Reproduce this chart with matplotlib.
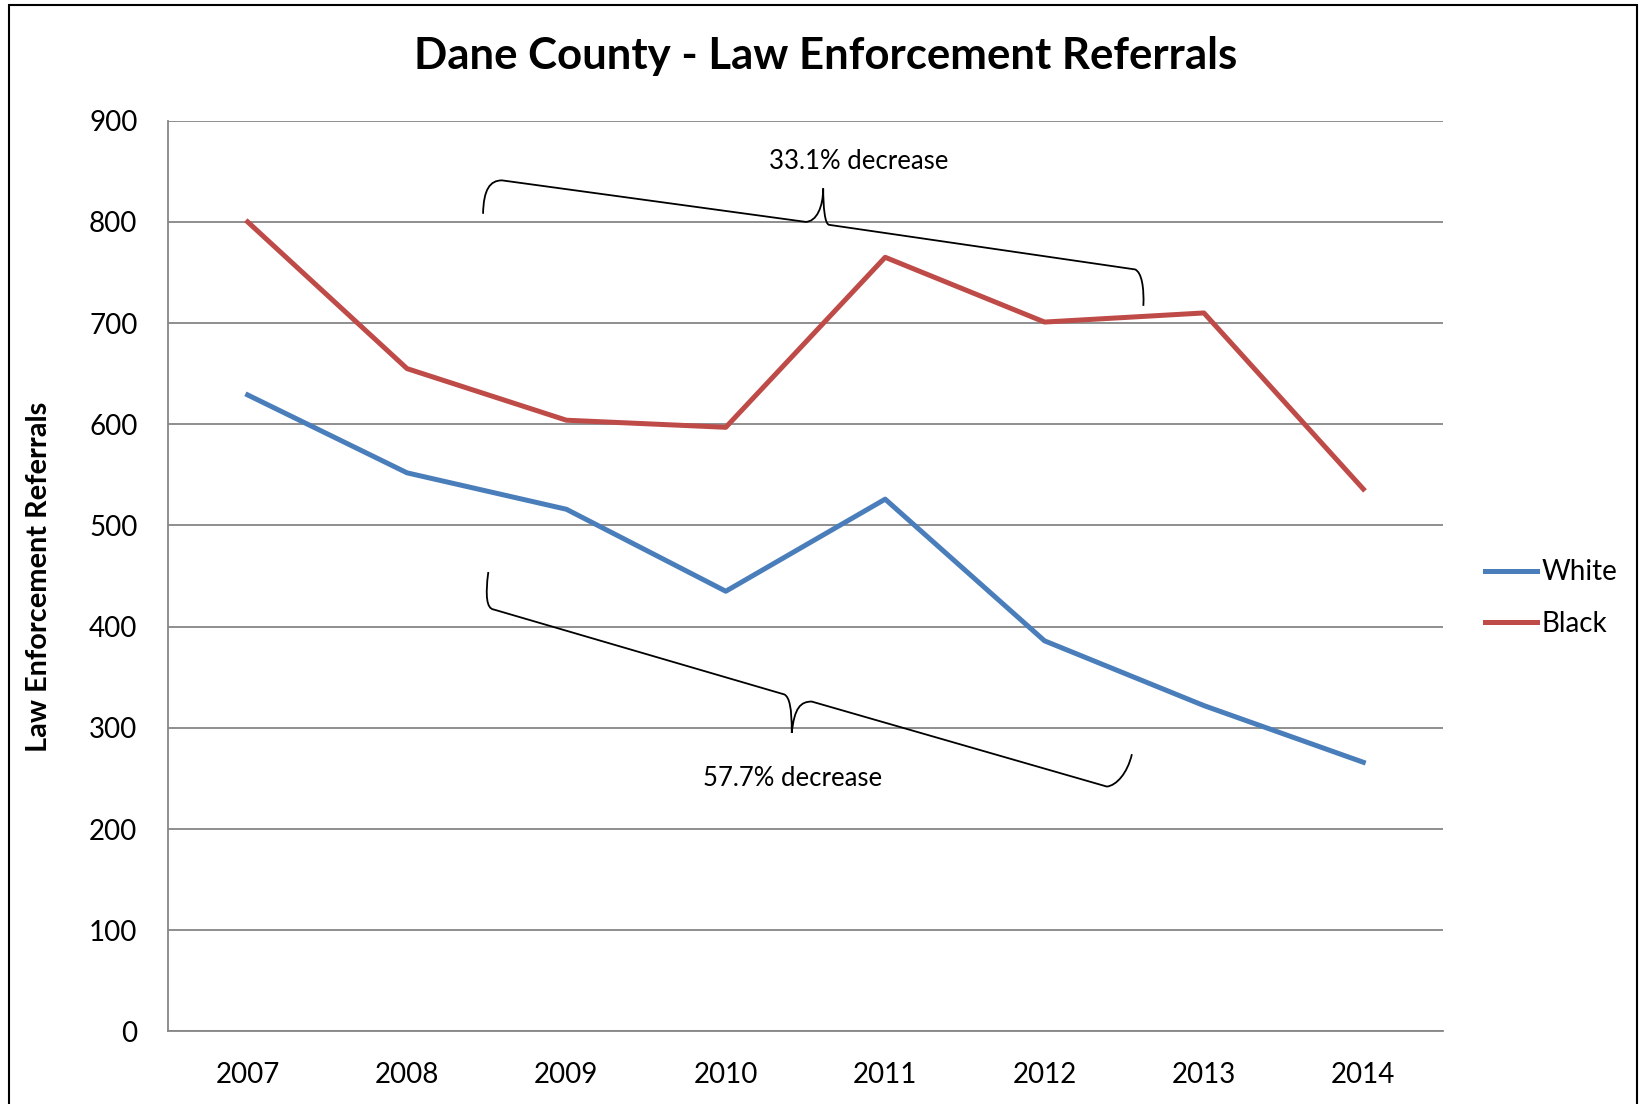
import numpy as np
import matplotlib.pyplot as plt
from matplotlib.path import Path
from matplotlib.patches import PathPatch, Rectangle

annees = ["2007", "2008", "2009", "2010", "2011", "2012", "2013", "2014"]
white = [629, 552, 516, 435, 526, 386, 322, 266]
black = [800, 655, 604, 597, 765, 701, 710, 536]

plt.rcParams['font.family'] = ['Lato', 'DejaVu Sans']


def accolade(ax, pts):
    """Accolade dessinée a la main (courbes de Bezier)"""
    codes = [Path.MOVETO,
             Path.CURVE4, Path.CURVE4, Path.CURVE4,
             Path.LINETO,
             Path.CURVE4, Path.CURVE4, Path.CURVE4,
             Path.CURVE4, Path.CURVE4, Path.CURVE4,
             Path.LINETO,
             Path.CURVE4, Path.CURVE4, Path.CURVE4]
    ax.add_patch(PathPatch(Path(pts, codes), fill=False, edgecolor='black',
                           lw=1.3, zorder=4))


fig = plt.figure(figsize=(16.42, 11.04), dpi=100)
ax = fig.add_axes([0.1023, 0.0657, 0.7765, 0.825])

x = np.arange(len(annees))
ax.plot(x, white, color='#4A7EBB', lw=3.6, label='White', zorder=3)
ax.plot(x, black, color='#BE4B48', lw=3.6, label='Black', zorder=3)

ax.set_xlim(-0.5, len(annees) - 0.5)
ax.set_ylim(0, 900)
ax.set_yticks(np.arange(0, 901, 100))
ax.set_xticks(x)
ax.set_xticklabels(annees)
ax.tick_params(length=0, labelsize=20)
ax.tick_params(axis='x', pad=22)
ax.tick_params(axis='y', pad=22)
ax.grid(axis='y', color='#868686', lw=1.3)
ax.set_axisbelow(True)
for s in ['top', 'right']:
    ax.spines[s].set_visible(False)
for s in ['left', 'bottom']:
    ax.spines[s].set_color('#868686')
    ax.spines[s].set_linewidth(1.3)

# accolades et textes
haut = [(1.477, 808), (1.48, 832), (1.52, 841), (1.596, 841),
        (3.50, 800),
        (3.57, 800), (3.611, 815), (3.611, 833),
        (3.612, 815), (3.62, 797), (3.651, 797),
        (5.568, 753),
        (5.61, 750), (5.625, 735), (5.62, 717)]
bas = [(1.510, 454), (1.49, 430), (1.50, 418), (1.543, 417),
       (3.368, 333),
       (3.40, 330), (3.414, 320), (3.414, 295),
       (3.43, 320), (3.47, 326), (3.539, 326),
       (5.391, 242),
       (5.45, 243), (5.52, 255), (5.548, 274)]
accolade(ax, haut)
accolade(ax, bas)
ax.text(3.834, 860, "33.1% decrease", ha='center', va='center', fontsize=18.5)
ax.text(3.421, 250, "57.7% decrease", ha='center', va='center', fontsize=18.5)

fig.text(826 / 1642, 1 - 56 / 1104, "Dane County - Law Enforcement Referrals",
         ha='center', va='center', fontsize=31.5, fontweight='bold')
fig.text(39 / 1642, 1 - 577 / 1104, "Law Enforcement Referrals",
         ha='center', va='center', rotation=90, fontsize=20.8, fontweight='bold')

ax.legend(loc='center left', bbox_to_anchor=(1485 / 1642, 1 - 598 / 1104),
          bbox_transform=fig.transFigure, frameon=False, fontsize=20,
          borderpad=0, borderaxespad=0, handlelength=1.87,
          handletextpad=0.18, labelspacing=0.9)

fig.patches.append(Rectangle((9 / 1642, -0.02), 1628 / 1642, 1.02 - 4.7 / 1104,
                             transform=fig.transFigure, fill=False,
                             edgecolor='black', lw=1.5))

fig.savefig('out.png', dpi=100)
